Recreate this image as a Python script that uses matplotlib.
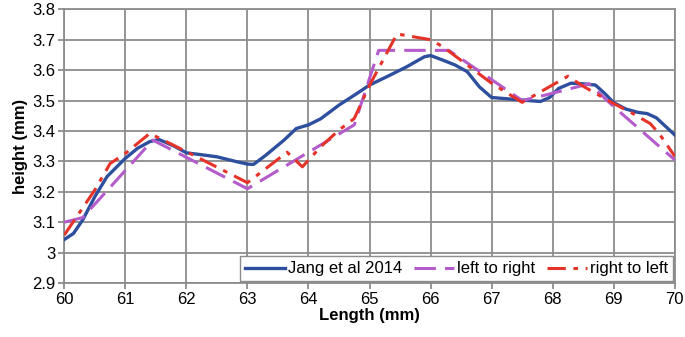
import matplotlib.pyplot as plt

plt.rcParams['font.family'] = ['Liberation Sans', 'DejaVu Sans']

# Jang et al 2014 (smooth curve)
jang_x = [60.0, 60.15, 60.3, 60.5, 60.7, 61.0, 61.2, 61.4, 61.55, 61.8, 62.0, 62.2, 62.5, 62.8,
          63.0, 63.1, 63.3, 63.6, 63.8, 64.0, 64.2, 64.5, 64.8, 65.0, 65.3, 65.6, 65.9, 66.0,
          66.2, 66.4, 66.6, 66.8, 67.0, 67.3, 67.6, 67.8, 67.95, 68.1, 68.3, 68.5, 68.7, 68.85,
          69.0, 69.2, 69.4, 69.55, 69.7, 69.85, 70.0]
jang_y = [3.043, 3.063, 3.107, 3.184, 3.25, 3.31, 3.343, 3.365, 3.372, 3.35, 3.328, 3.323, 3.315, 3.30,
          3.291, 3.29, 3.32, 3.37, 3.408, 3.42, 3.44, 3.485, 3.524, 3.551, 3.58, 3.61, 3.644, 3.648,
          3.633, 3.617, 3.595, 3.545, 3.51, 3.505, 3.50, 3.497, 3.51, 3.54, 3.557, 3.555, 3.551, 3.524,
          3.493, 3.472, 3.461, 3.457, 3.443, 3.415, 3.387]

# left to right
ltr_x = [60.0, 60.3, 61.45, 63.0, 64.75, 65.15, 66.3, 67.5, 67.9, 68.6, 69.0, 70.0]
ltr_y = [3.10, 3.115, 3.37, 3.21, 3.42, 3.665, 3.665, 3.50, 3.519, 3.555, 3.48, 3.305]

# right to left
rtl_x = [60.0, 60.5, 60.75, 61.0, 61.4, 62.0, 63.0, 63.65, 63.9, 64.2, 64.5, 64.75, 65.0,
         65.45, 66.0, 66.2, 67.0, 67.5, 68.25, 68.5, 69.0, 69.3, 69.6, 69.75, 70.0]
rtl_y = [3.058, 3.206, 3.293, 3.326, 3.392, 3.332, 3.23, 3.33, 3.282, 3.348, 3.403, 3.441, 3.55,
         3.719, 3.70, 3.677, 3.557, 3.494, 3.58, 3.547, 3.49, 3.459, 3.424, 3.39, 3.317]

fig = plt.figure(figsize=(6.85, 3.37), dpi=100)
ax = fig.add_axes([0.0939, 0.1602, 0.8911, 0.8122])

ax.plot(jang_x, jang_y, color='#2E4E9E', lw=2.4, label='Jang et al 2014', zorder=3)
ax.plot(ltr_x, ltr_y, color='#B45CCB', lw=2.2, dashes=(7, 3), label='left to right', zorder=4)
ax.plot(rtl_x, rtl_y, color='#E53329', lw=2.2, dashes=(6, 2.5, 1.5, 2.5), label='right to left', zorder=5)

ax.set_xlim(60, 70)
ax.set_ylim(2.9, 3.8)
ax.set_xticks(range(60, 71))
yt = [2.9, 3.0, 3.1, 3.2, 3.3, 3.4, 3.5, 3.6, 3.7, 3.8]
ax.set_yticks(yt)
ax.set_yticklabels(['2.9', '3', '3.1', '3.2', '3.3', '3.4', '3.5', '3.6', '3.7', '3.8'])
ax.grid(True, color='#8c8c8c', lw=1.3)
ax.set_axisbelow(True)
for s in ax.spines.values():
    s.set_color('#8c8c8c')
    s.set_linewidth(1.3)
ax.tick_params(colors='#8c8c8c', labelcolor='black', labelsize=12, length=4, width=1.3, pad=2.5)

ax.set_xlabel('Length (mm)', fontsize=12, fontweight='bold', labelpad=1)
ax.set_ylabel('height (mm)', fontsize=12, fontweight='bold', labelpad=3)

leg = ax.legend(loc='lower right', ncol=3, fontsize=12, frameon=True, fancybox=False,
                edgecolor='#8c8c8c', framealpha=1, borderaxespad=0.1, handlelength=2.4,
                handletextpad=0.15, columnspacing=0.75, borderpad=0.3,
                bbox_to_anchor=(1.0, 0.0))
leg.get_frame().set_linewidth(1.0)

fig.savefig('out.png', dpi=100)
